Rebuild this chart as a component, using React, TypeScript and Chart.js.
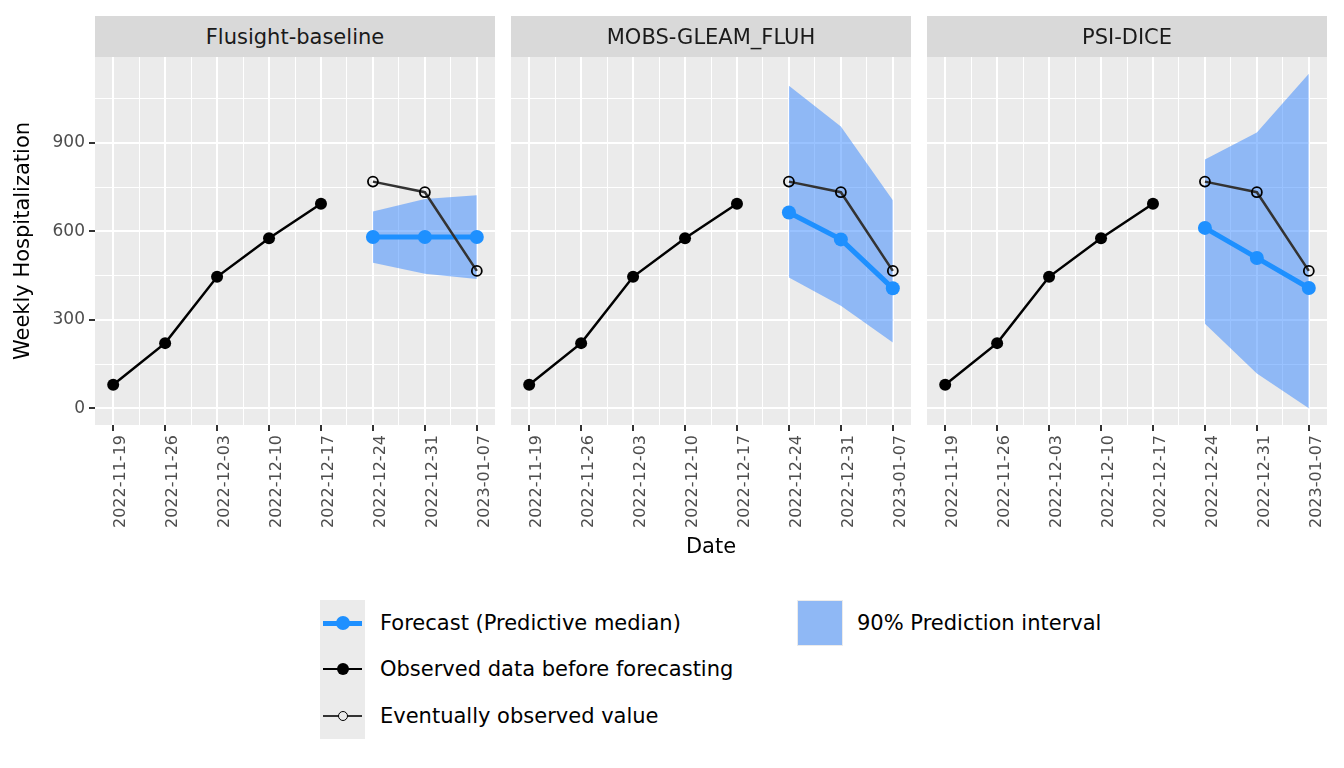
import React, { useEffect, useRef } from 'react';
import { Chart, registerables } from 'chart.js';

Chart.register(...registerables);

// ---- data ----
const dates = [
  '2022-11-19', '2022-11-26', '2022-12-03', '2022-12-10',
  '2022-12-17', '2022-12-24', '2022-12-31', '2023-01-07',
];
const forecastStart = 5; // index of the first forecast week in `dates`

const observedBefore = [80, 221, 446, 577, 694];
const eventuallyObserved = [769, 733, 466];

const models = ['Flusight-baseline', 'MOBS-GLEAM_FLUH', 'PSI-DICE'];

const baselineMedian = [581, 581, 581];
const baselineLower = [494, 456, 439];
const baselineUpper = [668, 710, 723];

const mobsMedian = [664, 573, 407];
const mobsLower = [444, 348, 223];
const mobsUpper = [1094, 956, 706];

const psiMedian = [612, 510, 408];
const psiLower = [287, 118, 0];
const psiUpper = [844, 936, 1135];

const medians = [baselineMedian, mobsMedian, psiMedian];
const lowers = [baselineLower, mobsLower, psiLower];
const uppers = [baselineUpper, mobsUpper, psiUpper];

const yTickValues = [0, 150, 300, 450, 600, 750, 900, 1050];
const yMajorStep = 300;

// ---- styling / layout ----
const FONT = "'DejaVu Sans', 'Noto Sans', sans-serif";
const PANEL_BG = '#EBEBEB';
const STRIP_BG = '#D9D9D9';
const BLUE = '#1E90FF';
const BAND = 'rgba(51,133,255,0.5)';

const PANEL_TOP = 57;
const PANEL_H = 368;
const PANEL_W = 400;
const PANEL_LEFTS = [95, 511, 927];
const Y_AXIS_W = 95;
const X_AXIS_H = 140;
const PAD = 20;

// shared y range (ggplot-like 5% expansion of the data range)
const allValues = [
  ...observedBefore, ...eventuallyObserved,
  ...medians.flat(), ...lowers.flat(), ...uppers.flat(),
];
const dataMin = Math.min(...allValues);
const dataMax = Math.max(...allValues);
const yMin = dataMin - (dataMax - dataMin) * 0.05;
const yMax = dataMax + (dataMax - dataMin) * 0.05;

// shared x range over week indices
const xMin = -(dates.length - 1) * 0.05;
const xMax = (dates.length - 1) * 1.05;
const xTickValues: number[] = [];
for (let v = 0; v <= dates.length - 1; v += 0.5) xTickValues.push(v);

const panelBackground = {
  id: 'panelBackground',
  beforeDraw(chart: any) {
    const { ctx, chartArea: a } = chart;
    ctx.save();
    ctx.fillStyle = PANEL_BG;
    ctx.fillRect(a.left, a.top, a.right - a.left, a.bottom - a.top);
    ctx.restore();
  },
};

function canvasGeom(i: number) {
  const left = i === 0 ? 0 : PANEL_LEFTS[i] - PAD;
  const width = i === 0 ? Y_AXIS_W + PANEL_W + PAD : PANEL_W + 2 * PAD;
  const top = PANEL_TOP - PAD;
  const height = PAD + PANEL_H + X_AXIS_H;
  return { left, top, width, height };
}

function buildConfig(i: number): any {
  const showY = i === 0;
  const showXTitle = i === 1;
  const atForecast = (vals: number[]) => vals.map((y, k) => ({ x: forecastStart + k, y }));

  return {
    type: 'line',
    data: {
      datasets: [
        {
          label: 'upper',
          data: atForecast(uppers[i]),
          borderWidth: 0,
          pointRadius: 0,
          backgroundColor: BAND,
          fill: '+1',
          order: 3,
        },
        {
          label: 'lower',
          data: atForecast(lowers[i]),
          borderWidth: 0,
          pointRadius: 0,
          fill: false,
          order: 3,
        },
        {
          label: 'Forecast (Predictive median)',
          data: atForecast(medians[i]),
          borderColor: BLUE,
          borderWidth: 5,
          pointRadius: 7,
          pointBackgroundColor: BLUE,
          pointBorderWidth: 0,
          fill: false,
          order: 2,
        },
        {
          label: 'Observed data before forecasting',
          data: observedBefore.map((y, k) => ({ x: k, y })),
          borderColor: '#000000',
          borderWidth: 2.5,
          pointRadius: 6,
          pointBackgroundColor: '#000000',
          pointBorderWidth: 0,
          fill: false,
          order: 1,
        },
        {
          label: 'Eventually observed value',
          data: atForecast(eventuallyObserved),
          borderColor: '#333333',
          borderWidth: 2.5,
          pointRadius: 5,
          pointBackgroundColor: 'rgba(0,0,0,0)',
          pointBorderColor: '#000000',
          pointBorderWidth: 1.8,
          fill: false,
          order: 0,
        },
      ],
    },
    options: {
      animation: false,
      responsive: false,
      maintainAspectRatio: false,
      devicePixelRatio: 1,
      events: [],
      layout: { padding: { top: PAD, right: PAD, bottom: 0, left: showY ? 0 : PAD } },
      elements: { line: { tension: 0 } },
      plugins: { legend: { display: false }, tooltip: { enabled: false } },
      scales: {
        x: {
          type: 'linear',
          min: xMin,
          max: xMax,
          afterBuildTicks: (s: any) => {
            s.ticks = xTickValues.map((value) => ({ value }));
          },
          afterFit: (s: any) => {
            s.height = X_AXIS_H;
          },
          border: { display: false },
          grid: {
            color: '#FFFFFF',
            lineWidth: (c: any) => (Number.isInteger(c.tick?.value) ? 2 : 1),
            tickLength: 6,
            tickWidth: 2,
            tickColor: (c: any) => (Number.isInteger(c.tick?.value) ? '#333333' : 'rgba(0,0,0,0)'),
          },
          ticks: {
            autoSkip: false,
            minRotation: 90,
            maxRotation: 90,
            padding: 4,
            labelOffset: 8,
            color: '#4D4D4D',
            font: { family: FONT, size: 16 },
            callback: (v: any) => (Number.isInteger(v) ? dates[v] : ''),
          },
          title: {
            display: showXTitle,
            text: 'Date',
            color: '#000000',
            font: { family: FONT, size: 21 },
            padding: { top: 0, bottom: 5 },
          },
        },
        y: {
          type: 'linear',
          min: yMin,
          max: yMax,
          afterBuildTicks: (s: any) => {
            s.ticks = yTickValues.map((value) => ({ value }));
          },
          afterFit: (s: any) => {
            s.width = showY ? Y_AXIS_W : 0;
          },
          border: { display: false },
          grid: {
            color: '#FFFFFF',
            lineWidth: (c: any) => (c.tick && c.tick.value % yMajorStep === 0 ? 2 : 1),
            drawTicks: showY,
            tickLength: 6,
            tickWidth: 2,
            tickColor: (c: any) =>
              c.tick && c.tick.value % yMajorStep === 0 ? '#333333' : 'rgba(0,0,0,0)',
          },
          ticks: {
            display: showY,
            padding: 4,
            color: '#4D4D4D',
            font: { family: FONT, size: 17 },
            callback: (v: any) => (v % yMajorStep === 0 ? String(v) : ''),
          },
          title: {
            display: showY,
            text: 'Weekly Hospitalization',
            color: '#000000',
            font: { family: FONT, size: 21 },
            padding: { top: 11, bottom: 0 },
          },
        },
      },
    },
    plugins: [panelBackground],
  };
}

function Panel({ index }: { index: number }) {
  const ref = useRef<HTMLCanvasElement>(null);
  useEffect(() => {
    const chart = new Chart(ref.current as HTMLCanvasElement, buildConfig(index));
    return () => chart.destroy();
  }, [index]);
  const g = canvasGeom(index);
  return (
    <canvas
      ref={ref}
      width={g.width}
      height={g.height}
      style={{ position: 'absolute', left: g.left, top: g.top, width: g.width, height: g.height }}
    />
  );
}

function Strip({ index }: { index: number }) {
  return (
    <div
      style={{
        position: 'absolute',
        left: PANEL_LEFTS[index],
        top: 16,
        width: PANEL_W,
        height: PANEL_TOP - 16,
        background: STRIP_BG,
        color: '#1A1A1A',
        fontFamily: FONT,
        fontSize: 21,
        display: 'flex',
        alignItems: 'center',
        justifyContent: 'center',
        zIndex: 2,
      }}
    >
      {models[index]}
    </div>
  );
}

const legendText: React.CSSProperties = {
  position: 'absolute',
  fontFamily: FONT,
  fontSize: 21,
  lineHeight: '24px',
  color: '#000000',
  whiteSpace: 'nowrap',
};

function LineKey({ cy, color, lw, r, fill, border }: any) {
  return (
    <>
      <div
        style={{
          position: 'absolute',
          left: 3,
          width: 39,
          top: cy - lw / 2,
          height: lw,
          background: color,
        }}
      />
      <div
        style={{
          position: 'absolute',
          left: 22.5 - r,
          top: cy - r,
          width: 2 * r,
          height: 2 * r,
          borderRadius: '50%',
          boxSizing: 'border-box',
          background: fill,
          border: border ? `1.8px solid ${border}` : 'none',
        }}
      />
    </>
  );
}

function Legend() {
  return (
    <>
      <div
        style={{ position: 'absolute', left: 320, top: 600, width: 45, height: 139, background: PANEL_BG }}
      >
        <LineKey cy={23} color={BLUE} lw={5} r={7} fill={BLUE} />
        <LineKey cy={69} color="#000000" lw={2.5} r={6} fill="#000000" />
        <LineKey cy={116} color="#333333" lw={2.5} r={5} fill={PANEL_BG} border="#000000" />
      </div>
      <div style={{ ...legendText, left: 380, top: 611 }}>Forecast (Predictive median)</div>
      <div style={{ ...legendText, left: 380, top: 657 }}>Observed data before forecasting</div>
      <div style={{ ...legendText, left: 380, top: 704 }}>Eventually observed value</div>

      <div
        style={{ position: 'absolute', left: 797, top: 600, width: 46, height: 46, background: PANEL_BG }}
      >
        <div style={{ position: 'absolute', left: 1, top: 1, width: 44, height: 44, background: BAND }} />
      </div>
      <div style={{ ...legendText, left: 857, top: 611 }}>90% Prediction interval</div>
    </>
  );
}

export default function App() {
  return (
    <div
      style={{
        position: 'absolute',
        left: 0,
        top: 0,
        width: 1344,
        height: 768,
        background: '#FFFFFF',
        overflow: 'hidden',
      }}
    >
      {models.map((_, i) => (
        <Panel key={`p${i}`} index={i} />
      ))}
      {models.map((_, i) => (
        <Strip key={`s${i}`} index={i} />
      ))}
      <Legend />
    </div>
  );
}
